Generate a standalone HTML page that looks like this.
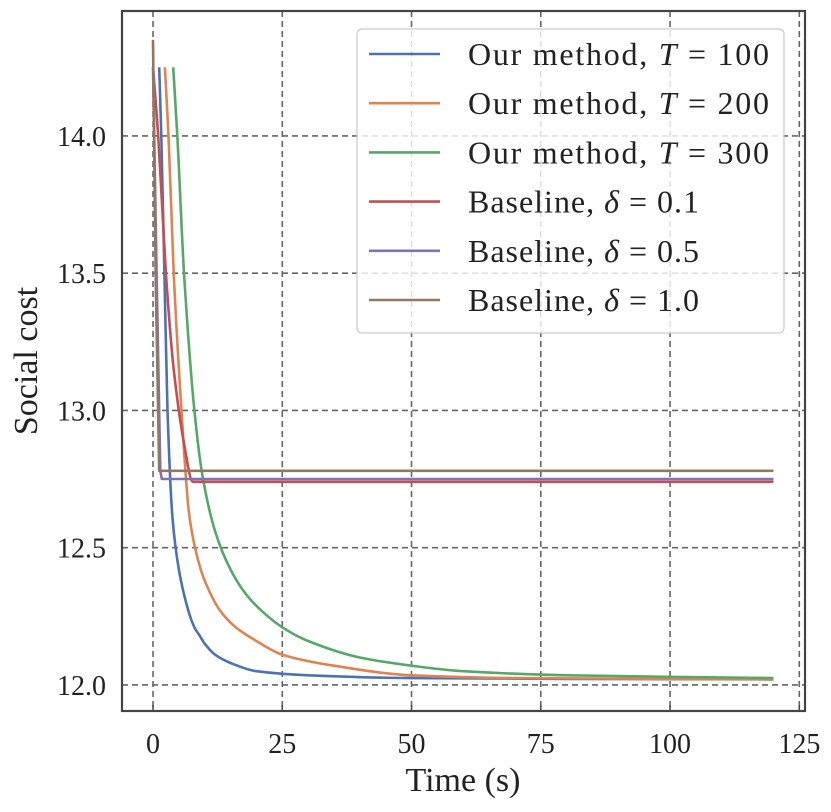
<!DOCTYPE html>
<html><head><meta charset="utf-8"><style>
html,body{margin:0;padding:0;background:#fff;}
svg{display:block;font-family:"Liberation Serif",serif;}
</style></head>
<body>
<svg id="chart" width="831" height="812" viewBox="0 0 831 812"></svg>
<script>
const xTicks=[0,25,50,75,100,125];
const yTicks=[12.0,12.5,13.0,13.5,14.0];
const yTickLabels=["12.0","12.5","13.0","13.5","14.0"];
const seriesPrefix=["Our method, ","Our method, ","Our method, ","Baseline, ","Baseline, ","Baseline, "];
const seriesSymbol=["T","T","T","δ","δ","δ"];
const seriesValueLabel=[" = 100"," = 200"," = 300"," = 0.1"," = 0.5"," = 1.0"];
const seriesColors=["#4c72b0","#dd8452","#55a868","#c44e52","#8172b3","#937860"];
const t100=[1.2,1.6,2.2,2.8,3.8,5,6,7,8,9,10,12,15,20,30,50,80,120];
const v100=[14.25,14.0,13.5,13.0,12.6,12.42,12.33,12.26,12.21,12.18,12.15,12.11,12.08,12.05,12.035,12.025,12.022,12.02];
const t200=[2.3,3,4,5.5,7,8.5,10,13,16,20,25,35,50,70,120];
const v200=[14.25,14.0,13.5,13.0,12.62,12.47,12.38,12.27,12.21,12.16,12.11,12.07,12.035,12.025,12.02];
const t300=[3.9,4.7,6,8,9.5,12,15,18,21,25,30,40,50,60,80,120];
const v300=[14.25,14.0,13.5,13.0,12.77,12.56,12.42,12.33,12.27,12.21,12.16,12.1,12.07,12.05,12.035,12.025];
const tB1=[0,1,2.5,4,6,7.7,120];
const vB1=[14.25,14.0,13.5,13.15,12.88,12.74,12.74];
const tB5=[0,0.7,1.4,1.7,120];
const vB5=[14.25,13.5,12.78,12.75,12.75];
const tB10=[0,0.5,1.2,120];
const vB10=[14.35,13.5,12.78,12.78];
const seriesT=[t100,t200,t300,tB1,tB5,tB10];
const seriesV=[v100,v200,v300,vB1,vB5,vB10];
const smoothSeries=[true,true,true,true,false,false];

const L=122,R=805,T=11,B=711;
const xMin=-6,xMax=126.1,yMin=11.905,yMax=14.455;
const X=v=>L+(v-xMin)/(xMax-xMin)*(R-L);
const Y=v=>B-(v-yMin)/(yMax-yMin)*(B-T);
const svg=document.getElementById('chart');
const NS='http://www.w3.org/2000/svg';
function mk(tag,attrs,parent){const e=document.createElementNS(NS,tag);for(const k in attrs)e.setAttribute(k,attrs[k]);(parent||svg).appendChild(e);return e;}

function monotonePath(px,py){
  const n=px.length;
  if(n<3)return px.map((x,i)=>(i?'L':'M')+x.toFixed(1)+','+py[i].toFixed(1)).join(' ');
  const d=[],m=new Array(n);
  for(let i=0;i<n-1;i++)d.push((py[i+1]-py[i])/(px[i+1]-px[i]));
  m[0]=d[0];m[n-1]=d[n-2];
  for(let i=1;i<n-1;i++){m[i]=(d[i-1]*d[i]<=0)?0:2/(1/d[i-1]+1/d[i]);}
  let s='M'+px[0].toFixed(1)+','+py[0].toFixed(1);
  for(let i=0;i<n-1;i++){
    const h=(px[i+1]-px[i])/3;
    s+=' C'+(px[i]+h).toFixed(1)+','+(py[i]+m[i]*h).toFixed(1)+' '+(px[i+1]-h).toFixed(1)+','+(py[i+1]-m[i+1]*h).toFixed(1)+' '+px[i+1].toFixed(1)+','+py[i+1].toFixed(1);
  }
  return s;
}

const grid=mk('g',{});


xTicks.forEach(v=>{
  const l=mk('line',{x1:X(v),x2:X(v),y1:T,y2:B,stroke:'#666','stroke-width':1.6,'stroke-dasharray':'6,4'},grid);
  
  
  const tk=mk('line',{x1:X(v),x2:X(v),y1:B,y2:B-6,stroke:'#444','stroke-width':1.5});
  
  
  const t=mk('text',{x:X(v),y:753,'text-anchor':'middle','font-size':28,fill:'#222'});
  t.textContent=v;
  
  
});
yTicks.forEach((v,i)=>{
  const l=mk('line',{x1:L,x2:R,y1:Y(v),y2:Y(v),stroke:'#666','stroke-width':1.6,'stroke-dasharray':'6,4'},grid);
  
  
  const t=mk('text',{x:106,y:Y(v)+10,'text-anchor':'end','font-size':28,fill:'#222'});
  t.textContent=yTickLabels[i];
  
  
});

const lines=mk('g',{});


seriesT.forEach((ts,i)=>{
  const px=ts.map(X),py=seriesV[i].map(Y);
  const d=smoothSeries[i]?monotonePath(px,py):px.map((x,j)=>(j?'L':'M')+x.toFixed(1)+','+py[j].toFixed(1)).join(' ');
  const p=mk('path',{d:d,fill:'none',stroke:seriesColors[i],'stroke-width':2.6,'stroke-linejoin':'round'},lines);
  
  
});

const frame=mk('rect',{x:L,y:T,width:R-L,height:B-T,fill:'none',stroke:'#444','stroke-width':2.2});



const lg=mk('g',{});


const lb=mk('rect',{x:357,y:29,width:427,height:304,rx:5,fill:'rgba(255,255,255,0.8)',stroke:'#ccc','stroke-width':1.3},lg);


seriesPrefix.forEach((n,i)=>{
  const y=54+i*49.2;
  const l=mk('line',{x1:369,x2:440,y1:y,y2:y,stroke:seriesColors[i],'stroke-width':2.6},lg);
  
  
  const t=mk('text',{x:468,y:y+11,'font-size':32,fill:'#222',textLength:(i<3?301:231),lengthAdjust:'spacing'},lg);
  
  
  const a=mk('tspan',{},t);a.textContent=n;
  const b=mk('tspan',{'font-style':'italic'},t);b.textContent=seriesSymbol[i];
  const c=mk('tspan',{},t);c.textContent=seriesValueLabel[i];
});

const xl=mk('text',{x:463,y:791,'text-anchor':'middle','font-size':34,fill:'#222'});
xl.textContent='Time (s)';


const yl=mk('text',{x:37,y:361,'text-anchor':'middle','font-size':34,fill:'#222',transform:'rotate(-90 37 361)'});
yl.textContent='Social cost';


</script>
</body></html>
